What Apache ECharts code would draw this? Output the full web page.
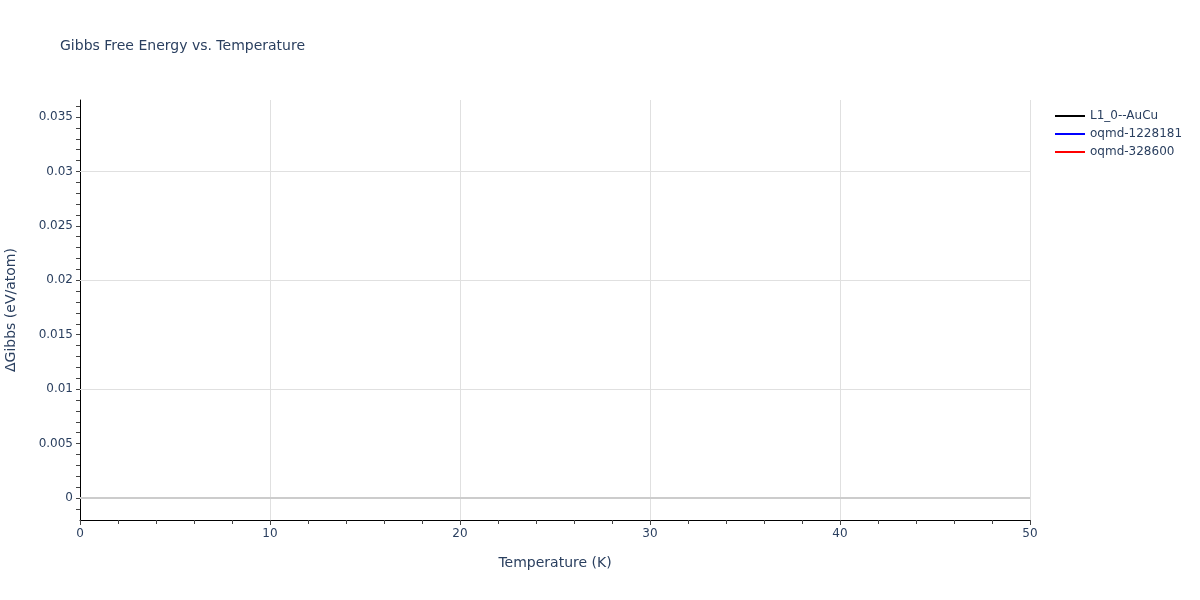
<!DOCTYPE html>
<html>
<head>
<meta charset="UTF-8">
<title>Gibbs Free Energy vs. Temperature</title>
<script src="https://cdn.jsdelivr.net/npm/echarts@6/dist/echarts.min.js"></script>
<style>
  html, body { margin: 0; padding: 0; background: #fff; }
  #main { width: 1200px; height: 600px; }
</style>
</head>
<body>
<div id="main"></div>
<script type="text/javascript">
  // series names from the legend; no points are drawn in the reference
  var seriesNames = ['L1_0--AuCu', 'oqmd-1228181', 'oqmd-328600'];
  var seriesColors = ['#000000', '#0000ff', '#ff0000'];
  var temps = [];          // Temperature (K)
  var gibbsAuCu = [];      // ΔGibbs, eV/atom
  var gibbs1228181 = [];
  var gibbs328600 = [];

  // y tick labels and minor tick marks
  var yLabels = [0, 0.005, 0.01, 0.015, 0.02, 0.025, 0.03, 0.035];
  var yMinor = [-0.001, 0, 0.001, 0.002, 0.003, 0.004, 0.005, 0.006, 0.007, 0.008, 0.009,
                0.01, 0.011, 0.012, 0.013, 0.014, 0.015, 0.016, 0.017, 0.018, 0.019,
                0.02, 0.021, 0.022, 0.023, 0.024, 0.025, 0.026, 0.027, 0.028, 0.029,
                0.03, 0.031, 0.032, 0.033, 0.034, 0.035, 0.036];

  var myChart = echarts.init(document.getElementById('main'));
  var txt = '#2a3f5f';
  var font = '"DejaVu Sans", sans-serif';

  function pair(xs, ys) {
    var out = [];
    for (var i = 0; i < xs.length; i++) out.push([xs[i], ys[i]]);
    return out;
  }
  var seriesData = [pair(temps, gibbsAuCu), pair(temps, gibbs1228181), pair(temps, gibbs328600)];

  var series = [];
  for (var i = 0; i < seriesNames.length; i++) {
    series.push({
      name: seriesNames[i],
      type: 'line',
      symbol: 'none',
      data: seriesData[i],
      lineStyle: { color: seriesColors[i], width: 2 },
      itemStyle: { color: seriesColors[i] }
    });
  }

  // horizontal gridlines at the labelled values, zero line a bit heavier
  var gridMarks = [];
  for (var j = 0; j < yLabels.length; j++) {
    if (yLabels[j] === 0) {
      gridMarks.push({ yAxis: 0, lineStyle: { color: '#cccccc', width: 2, type: 'solid' } });
    } else {
      gridMarks.push({ yAxis: yLabels[j] });
    }
  }
  series[0].markLine = {
    silent: true,
    symbol: 'none',
    label: { show: false },
    lineStyle: { color: '#e0e0e0', width: 1, type: 'solid' },
    data: gridMarks
  };

  var option = {
    backgroundColor: '#ffffff',
    animation: false,
    textStyle: { fontFamily: font },
    title: {
      text: 'Gibbs Free Energy vs. Temperature',
      left: 55,
      top: 34,
      textStyle: { color: txt, fontSize: 14, fontWeight: 'normal', fontFamily: font }
    },
    legend: {
      orient: 'vertical',
      left: 1050,
      top: 105,
      itemWidth: 30,
      itemHeight: 2,
      itemGap: 6,
      icon: 'rect',
      textStyle: { color: txt, fontSize: 12, fontFamily: font },
      data: seriesNames
    },
    grid: { left: 80, right: 170, top: 100, bottom: 80, containLabel: false, outerBoundsMode: 'none' },
    xAxis: {
      type: 'value',
      min: 0,
      max: 50,
      interval: 10,
      name: 'Temperature (K)',
      nameLocation: 'middle',
      nameGap: 36,
      nameTextStyle: { color: txt, fontSize: 14, fontFamily: font },
      axisLine: { show: true, onZero: false, lineStyle: { color: '#000', width: 1 } },
      axisTick: { show: true, inside: false, length: 5, lineStyle: { color: '#444' } },
      minorTick: { show: true, splitNumber: 5, length: 4, lineStyle: { color: '#444' } },
      axisLabel: { color: txt, fontSize: 12, margin: 8, fontFamily: font },
      splitLine: { show: true, lineStyle: { color: '#e0e0e0', width: 1 } }
    },
    yAxis: {
      type: 'value',
      min: -0.00202,
      max: 0.03656,
      name: 'ΔGibbs (eV/atom)',
      nameLocation: 'middle',
      nameGap: 62,
      nameTextStyle: { color: txt, fontSize: 14, fontFamily: font },
      axisLine: { show: true, onZero: false, lineStyle: { color: '#000', width: 1 } },
      axisTick: { show: true, inside: false, length: 4, customValues: yMinor, lineStyle: { color: '#444' } },
      axisLabel: { color: txt, fontSize: 12, margin: 7, customValues: yLabels, fontFamily: font,
                   formatter: function (v) { return String(+v.toFixed(3)); } },
      splitLine: { show: false }
    },
    series: series
  };
  myChart.setOption(option);
</script>
</body>
</html>
